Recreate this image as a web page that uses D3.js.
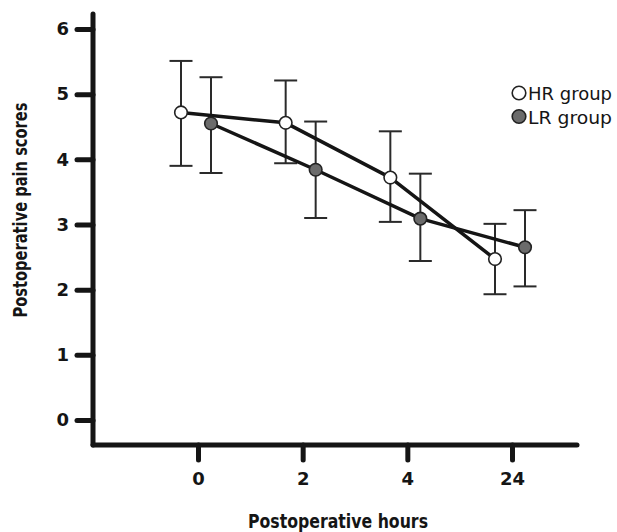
<!DOCTYPE html>
<html>
<head>
<meta charset="utf-8">
<script src="https://cdn.jsdelivr.net/npm/d3@7/dist/d3.min.js"></script>
<style>
  html, body { margin: 0; padding: 0; background: #fff; }
  svg { display: block; }
</style>
</head>
<body>
<svg id="chart" width="617" height="532"></svg>
<script>
// ---- data ----
const categories = ["0", "2", "4", "24"];
const hrMean  = [4.72, 4.56, 3.72, 2.47];
const hrUpper = [5.51, 5.21, 4.43, 3.01];
const hrLower = [3.90, 3.94, 3.04, 1.93];
const lrMean  = [4.55, 3.84, 3.09, 2.65];
const lrUpper = [5.26, 4.58, 3.78, 3.22];
const lrLower = [3.79, 3.10, 2.44, 2.05];
const yTicks = [0, 1, 2, 3, 4, 5, 6];
const seriesNames = ["HR group", "LR group"];

// ---- layout ----
const svg = d3.select("#chart");
const axisX0 = 93, axisX1 = 577, axisY = 445, axisTop = 14;
const x = d3.scalePoint().domain(categories).range([198, 512]);
const y = d3.scaleLinear().domain([0, 6]).range([420, 29]);
const offsets = [-17, 13];
const fills = ["#ffffff", "#6b6b6b"];
const ink = "#151515";
const FONT = "'DejaVu Sans', Verdana, sans-serif";

// axes lines
svg.append("line").attr("x1", axisX0).attr("x2", axisX0).attr("y1", axisTop).attr("y2", axisY)
  .attr("stroke", ink).attr("stroke-width", 5).attr("stroke-linecap", "round");
svg.append("line").attr("x1", axisX0).attr("x2", axisX1).attr("y1", axisY).attr("y2", axisY)
  .attr("stroke", ink).attr("stroke-width", 5).attr("stroke-linecap", "round");

// y axis ticks
const gy = svg.append("g").attr("transform", `translate(${axisX0},0)`)
  .call(d3.axisLeft(y).tickValues(yTicks).tickSize(16).tickPadding(8).tickFormat(d3.format("d")));
gy.select(".domain").remove();
gy.selectAll(".tick line").attr("stroke", ink).attr("stroke-width", 5).attr("stroke-linecap", "round");
gy.selectAll(".tick text").attr("fill", ink)
  .style("font-family", FONT).style("font-weight", "bold").style("font-size", "18px");

// x axis ticks
const gx = svg.append("g").attr("transform", `translate(0,${axisY})`)
  .call(d3.axisBottom(x).tickSize(15).tickPadding(12));
gx.select(".domain").remove();
gx.selectAll(".tick line").attr("stroke", ink).attr("stroke-width", 5).attr("stroke-linecap", "round");
gx.selectAll(".tick text").attr("fill", ink)
  .style("font-family", FONT).style("font-weight", "bold").style("font-size", "18px");

// axis titles
svg.append("text").attr("x", 338).attr("y", 528).attr("text-anchor", "middle")
  .attr("textLength", 180).attr("lengthAdjust", "spacingAndGlyphs")
  .style("font-family", FONT).style("font-weight", "bold").style("font-size", "20px")
  .attr("fill", ink).text("Postoperative hours");
svg.append("text").attr("transform", "translate(27,210) rotate(-90)").attr("text-anchor", "middle")
  .attr("textLength", 215).attr("lengthAdjust", "spacingAndGlyphs")
  .style("font-family", FONT).style("font-weight", "bold").style("font-size", "19px")
  .attr("fill", ink).text("Postoperative pain scores");

// series
const series = [
  { mean: hrMean, up: hrUpper, lo: hrLower },
  { mean: lrMean, up: lrUpper, lo: lrLower }
];
const gErr = svg.append("g");
const gLines = svg.append("g");
const gPts = svg.append("g");
series.forEach((s, si) => {
  const px = c => x(c) + offsets[si];
  const rows = categories.map((c, i) => ({ c, m: s.mean[i], u: s.up[i], l: s.lo[i] }));
  rows.forEach(r => {
    const g = gErr.append("g").attr("stroke", "#2a2a2a").attr("stroke-width", 2);
    g.append("line").attr("x1", px(r.c)).attr("x2", px(r.c)).attr("y1", y(r.u)).attr("y2", y(r.l));
    g.append("line").attr("x1", px(r.c) - 11.5).attr("x2", px(r.c) + 11.5).attr("y1", y(r.u)).attr("y2", y(r.u));
    g.append("line").attr("x1", px(r.c) - 11.5).attr("x2", px(r.c) + 11.5).attr("y1", y(r.l)).attr("y2", y(r.l));
  });
  gLines.append("path").datum(rows)
    .attr("d", d3.line().x(r => px(r.c)).y(r => y(r.m)))
    .attr("fill", "none").attr("stroke", ink).attr("stroke-width", 3.5).attr("stroke-linejoin", "round");
  gPts.selectAll(null).data(rows).enter().append("circle")
    .attr("cx", r => px(r.c)).attr("cy", r => y(r.m)).attr("r", 6.3)
    .attr("fill", fills[si]).attr("stroke", "#222").attr("stroke-width", 1.6);
});

// legend
const leg = svg.append("g");
seriesNames.forEach((name, i) => {
  const ly = 93 + i * 23.5;
  leg.append("circle").attr("cx", 519).attr("cy", ly).attr("r", 6.8)
    .attr("fill", fills[i]).attr("stroke", "#222").attr("stroke-width", 1.6);
  leg.append("text").attr("x", 528).attr("y", ly + 7)
    .attr("textLength", 84).attr("lengthAdjust", "spacingAndGlyphs")
    .style("font-family", FONT).style("font-size", "18px")
    .attr("fill", ink).text(name);
});
</script>
</body>
</html>
